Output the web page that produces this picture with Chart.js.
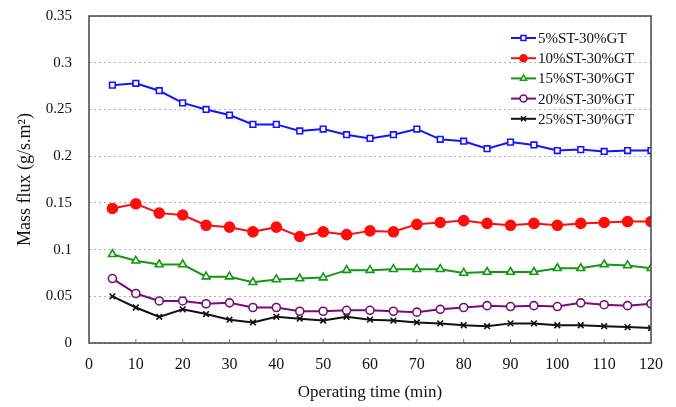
<!DOCTYPE html>
<html>
<head>
<meta charset="utf-8">
<script src="https://cdn.jsdelivr.net/npm/chart.js@4"></script>
<style>
  html, body { margin: 0; padding: 0; background: #fff; }
  #wrap { width: 676px; height: 407px; }
</style>
</head>
<body>
<div id="wrap"><canvas id="chart" width="676" height="407"></canvas></div>
<script>
// operating time (min)
const times = [5, 10, 15, 20, 25, 30, 35, 40, 45, 50, 55, 60, 65, 70, 75, 80, 85, 90, 95, 100, 105, 110, 115, 120];

// mass flux values (g/s.m2)
const st5 = [0.276, 0.278, 0.270, 0.257, 0.250, 0.244, 0.234, 0.234, 0.227, 0.229, 0.223, 0.219,
             0.223, 0.229, 0.218, 0.216, 0.208, 0.215, 0.212, 0.206, 0.207, 0.205, 0.206, 0.206];
const st10 = [0.144, 0.149, 0.139, 0.137, 0.126, 0.124, 0.119, 0.124, 0.114, 0.119, 0.116, 0.120,
              0.119, 0.127, 0.129, 0.131, 0.128, 0.126, 0.128, 0.126, 0.128, 0.129, 0.130, 0.130];
const st15 = [0.095, 0.088, 0.084, 0.084, 0.071, 0.071, 0.065, 0.068, 0.069, 0.070, 0.078, 0.078,
              0.079, 0.079, 0.079, 0.075, 0.076, 0.076, 0.076, 0.080, 0.080, 0.084, 0.083, 0.080];
const st20 = [0.069, 0.053, 0.045, 0.045, 0.042, 0.043, 0.038, 0.038, 0.034, 0.034, 0.035, 0.035,
              0.034, 0.033, 0.036, 0.038, 0.040, 0.039, 0.040, 0.039, 0.043, 0.041, 0.040, 0.042];
const st25 = [0.050, 0.038, 0.028, 0.036, 0.031, 0.025, 0.022, 0.028, 0.026, 0.024, 0.028, 0.025,
              0.024, 0.022, 0.021, 0.019, 0.018, 0.021, 0.021, 0.019, 0.019, 0.018, 0.017, 0.016];

const seriesNames = ['5%ST-30%GT', '10%ST-30%GT', '15%ST-30%GT', '20%ST-30%GT', '25%ST-30%GT'];
const yTicks = [0, 0.05, 0.1, 0.15, 0.2, 0.25, 0.3, 0.35];
const xTicks = [0, 10, 20, 30, 40, 50, 60, 70, 80, 90, 100, 110, 120];

const serif = '"Liberation Serif", "Times New Roman", serif';

function pts(arr) {
  return arr.map((v, i) => ({ x: times[i], y: v }));
}

const styles = [
  { color: '#1414ff', point: 'rect', fill: '#fff', r: 4 },
  { color: '#ff0d0d', point: 'circle', fill: '#ff0d0d', r: 5 },
  { color: '#119911', point: 'triangle', fill: '#fff', r: 4.5 },
  { color: '#7a0a7a', point: 'circle', fill: '#fff', r: 4 },
  { color: '#111111', point: 'crossRot', fill: '#111', r: 4 }
];
const allData = [st5, st10, st15, st20, st25];

// frame, inside x ticks and the line+marker legend
const decor = {
  id: 'decor',
  afterDraw(chart) {
    const { ctx, chartArea: a, scales } = chart;
    ctx.save();
    ctx.setLineDash([]);
    ctx.strokeStyle = '#444';
    ctx.lineWidth = 1.5;
    ctx.strokeRect(a.left, a.top, a.right - a.left, a.bottom - a.top);
    ctx.lineWidth = 1;
    ctx.strokeStyle = '#777';
    xTicks.forEach(t => {
      const x = scales.x.getPixelForValue(t);
      ctx.beginPath();
      ctx.moveTo(x, a.bottom);
      ctx.lineTo(x, a.bottom - 4);
      ctx.stroke();
    });
    // legend
    const lx = 511, ly = 38, step = 20.2;
    chart.data.datasets.forEach((ds, i) => {
      const y = ly + i * step;
      ctx.strokeStyle = ds.borderColor;
      ctx.lineWidth = 2;
      ctx.beginPath();
      ctx.moveTo(lx, y);
      ctx.lineTo(lx + 25, y);
      ctx.stroke();
      ctx.fillStyle = ds.pointBackgroundColor;
      ctx.strokeStyle = ds.pointBorderColor;
      ctx.lineWidth = 1.5;
      Chart.helpers.drawPoint(ctx, {
        pointStyle: ds.pointStyle,
        radius: 3.5,
        borderWidth: 1.5
      }, lx + 12.5, y);
      ctx.fillStyle = '#111';
      ctx.font = '15px ' + serif;
      ctx.textBaseline = 'middle';
      ctx.fillText(ds.label, lx + 27, y + 1);
    });
    ctx.restore();
  }
};

new Chart(document.getElementById('chart'), {
  type: 'line',
  data: {
    datasets: allData.map((d, i) => ({
      label: seriesNames[i],
      data: pts(d),
      borderColor: styles[i].color,
      backgroundColor: styles[i].fill,
      pointStyle: styles[i].point,
      pointRadius: styles[i].r,
      pointBorderWidth: 1.6,
      pointBackgroundColor: styles[i].fill,
      pointBorderColor: styles[i].color,
      borderWidth: 2,
      tension: 0
    }))
  },
  options: {
    responsive: false,
    animation: false,
    layout: { padding: { top: 16, right: 25, left: 0, bottom: 0 } },
    plugins: {
      legend: { display: false },
      tooltip: { enabled: false }
    },
    scales: {
      x: {
        type: 'linear',
        min: 0, max: 120,
        afterBuildTicks(s) { s.ticks = xTicks.map(v => ({ value: v })); },
        grid: { display: false },
        border: { display: false },
        ticks: { color: '#111', font: { family: serif, size: 16 }, padding: 4, maxRotation: 0 },
        title: { display: true, text: 'Operating time (min)', color: '#111', font: { family: serif, size: 17 }, padding: { top: 12 } },
        afterFit(s) { s.height = 64; }
      },
      y: {
        min: 0, max: 0.35,
        afterBuildTicks(s) { s.ticks = yTicks.map(v => ({ value: v })); },
        // invisible tick marks leave the gap between the labels and the axis
        grid: { color: '#b0b0b0', drawTicks: true, tickLength: 17, tickColor: 'rgba(0,0,0,0)', lineWidth: 1 },
        border: { display: false, dash: [2, 3] },
        ticks: { color: '#111', font: { family: serif, size: 15 }, padding: 0, callback: v => String(+v.toFixed(2)) },
        title: { display: true, text: 'Mass flux (g/s.m²)', color: '#111', font: { family: serif, size: 18 }, padding: { top: 14, bottom: 0 } },
        afterFit(s) { s.width = 89; }
      }
    }
  },
  plugins: [decor]
});
</script>
</body>
</html>
